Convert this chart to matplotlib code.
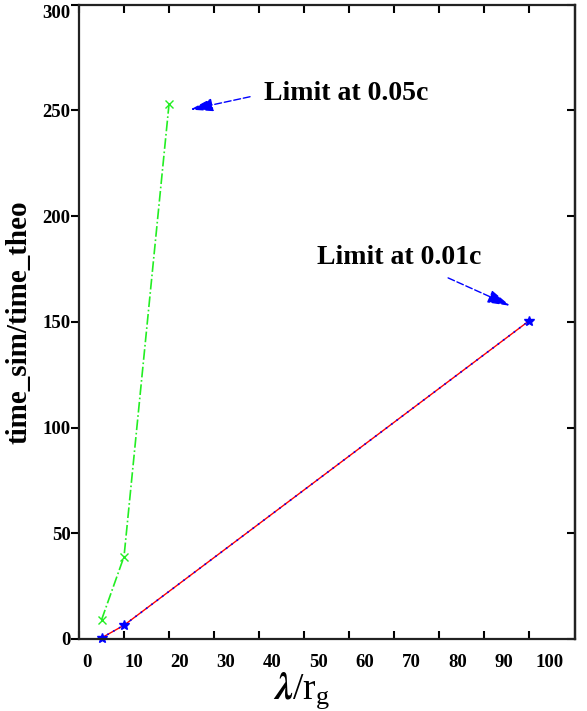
import numpy as np
import matplotlib.pyplot as plt
from matplotlib.transforms import ScaledTranslation

plt.rcParams['font.family'] = ['Liberation Serif', 'DejaVu Serif']
plt.rcParams['font.weight'] = 'bold'
plt.rcParams['mathtext.fontset'] = 'stix'

# data
x_005 = [5, 10, 20]
y_005 = [9, 39, 253]
x_001 = [5, 10, 100]
y_001 = [0.5, 6.5, 150.5]

fig = plt.figure(figsize=(5.87, 7.11), dpi=100)
ax = fig.add_axes([0.1346, 0.1013, 0.845, 0.892])

# 0.01c curve: red solid under blue dotted
ax.plot(x_001, y_001, color='red', lw=1.0, clip_on=False)
ax.plot(x_001, y_001, color='blue', lw=1.2, ls=(0, (1, 3)),
        marker='*', ms=7, mew=1, clip_on=False)
# 0.05c curve
ax.plot(x_005, y_005, color='#22ee22', lw=1.2, ls='-.',
        marker='x', ms=6, mew=1, clip_on=False)

ax.set_xlim(0, 110.2)
ax.set_ylim(0, 300)
ax.set_xticks(np.arange(0, 101, 10))
ax.set_yticks(np.arange(0, 301, 50))

for s in ax.spines.values():
    s.set_linewidth(1.6)
    s.set_color('#222222')

ax.tick_params(axis='x', direction='in', top=True, length=6, width=1.5,
               labelsize=13.5, pad=11)
ax.tick_params(axis='y', direction='out', length=6, width=1.5,
               labelsize=13.5, pad=0)
sec = ax.secondary_yaxis('right')
sec.set_yticks(np.arange(0, 301, 50))
sec.tick_params(direction='in', length=6, width=1.5, labelright=False)
sec.spines['right'].set_linewidth(1.6)

# x tick labels in the original sit a little right of their ticks
for lab, v in zip(ax.get_xticklabels(), ax.get_xticks()):
    lab.set_fontweight('bold')
    dx = (6 + 0.09 * v) / 72
    lab.set_transform(lab.get_transform() + ScaledTranslation(dx, 0, fig.dpi_scale_trans))
for lab in ax.get_yticklabels():
    lab.set_fontweight('bold')
ax.get_yticklabels()[-1].set_va('top')

ax.set_ylabel('time_sim/time_theo', fontsize=21, fontweight='bold')
ax.yaxis.set_label_coords(-0.093, 0.5)
ax.set_xlabel(r'$\lambda$/r$_\mathregular{g}$', fontsize=27)
ax.xaxis.set_label_coords(0.45, -0.049)
ax.xaxis.label.set_va('top')

arrow = dict(arrowstyle='-|>,head_length=1.4,head_width=0.4', color='blue',
             lw=1.0, ls=(0, (5, 2)), shrinkA=0, shrinkB=0)
ax.annotate('', xy=(24.7, 250.4), xytext=(38, 256.5), arrowprops=arrow)
ax.text(41.1, 258, 'Limit at 0.05c', fontsize=20, fontweight='bold', va='center')

ax.annotate('', xy=(95.8, 157.6), xytext=(82, 170.8), arrowprops=arrow)
ax.text(52.9, 180.3, 'Limit at 0.01c', fontsize=20, fontweight='bold', va='center')

fig.savefig('out.png', dpi=100)
